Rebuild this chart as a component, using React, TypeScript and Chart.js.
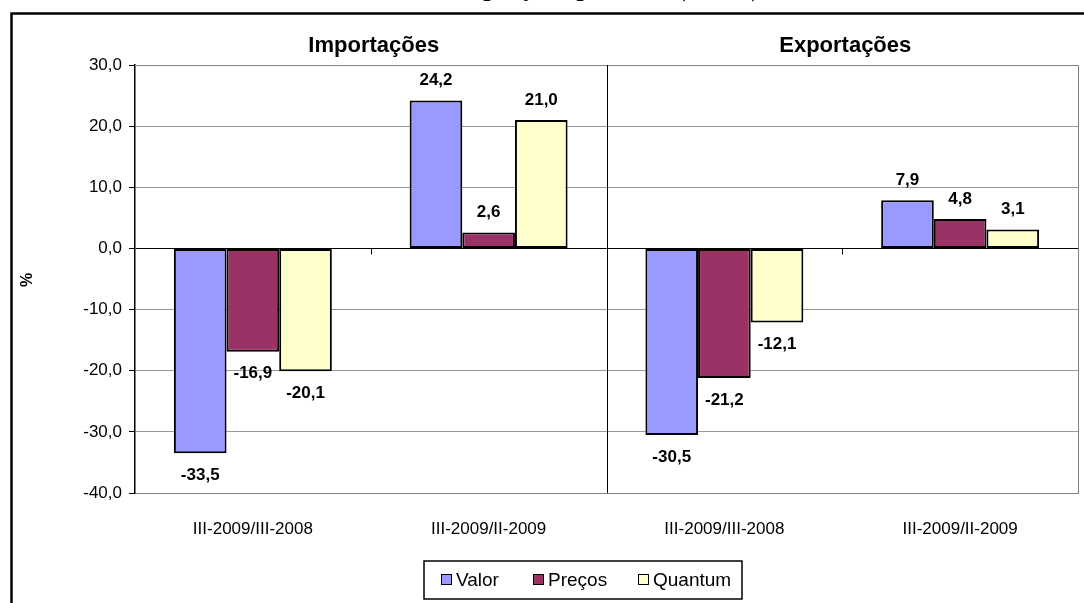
import React, { useEffect, useRef } from "react";
import { Chart, registerables } from "chart.js";

Chart.register(...registerables);

// Categories and series values (% change)
const categories = ["III-2009/III-2008", "III-2009/II-2009", "III-2009/III-2008", "III-2009/II-2009"];
const panelTitles = ["Importações", "Exportações"];
const seriesNames = ["Valor", "Preços", "Quantum"];
const valor = [-33.5, 24.2, -30.5, 7.9];
const precos = [-16.9, 2.6, -21.2, 4.8];
const quantum = [-20.1, 21.0, -12.1, 3.1];
const seriesColors = ["#9999FF", "#993366", "#FFFFCC"];
const yMin = -40;
const yMax = 30;
const yStep = 10;
const chartTitle = "Índices de valor, preço e quantum (em %)";

const SANS = "'Liberation Sans', Arial, sans-serif";
const SERIF = "'Liberation Serif', 'Times New Roman', serif";

const fmt = (v: number) => v.toFixed(1).replace(".", ",");

const decorations = {
  id: "decorations",
  beforeDraw(chart: any) {
    const { ctx, width, height } = chart;
    ctx.save();
    ctx.fillStyle = "#fff";
    ctx.fillRect(0, 0, width, height);
    ctx.restore();
  },
  afterDatasetsDraw(chart: any) {
    const { ctx } = chart;
    ctx.save();
    ctx.font = `bold 17px ${SANS}`;
    ctx.fillStyle = "#000";
    ctx.textAlign = "center";
    ctx.textBaseline = "middle";
    chart.data.datasets.forEach((ds: any, di: number) => {
      const meta = chart.getDatasetMeta(di);
      meta.data.forEach((bar: any, i: number) => {
        const v = ds.data[i];
        const y = v >= 0 ? bar.y - 20 : bar.y + 22;
        ctx.fillText(fmt(v), bar.x, y);
      });
    });
    ctx.restore();
  },
  afterDraw(chart: any) {
    const { ctx, chartArea, scales } = chart;
    const { left, right, top, bottom } = chartArea;
    const xs = scales.x;
    const ys = scales.y;
    const zeroY = ys.getPixelForValue(0);
    ctx.save();

    // plot area top/right border
    ctx.strokeStyle = "#808080";
    ctx.lineWidth = 1;
    ctx.beginPath();
    ctx.moveTo(left, top + 0.5);
    ctx.lineTo(right + 0.5, top + 0.5);
    ctx.lineTo(right + 0.5, bottom);
    ctx.stroke();

    // category boundaries: tick marks at zero line, divider between panels
    const bounds: number[] = [];
    for (let i = 0; i < categories.length - 1; i++) {
      bounds.push((xs.getPixelForValue(i) + xs.getPixelForValue(i + 1)) / 2);
    }
    ctx.strokeStyle = "#000";
    ctx.lineWidth = 1;
    bounds.forEach((bx) => {
      const px = Math.round(bx) + 0.5;
      ctx.beginPath();
      ctx.moveTo(px, zeroY);
      ctx.lineTo(px, zeroY + 6);
      ctx.stroke();
    });
    const mid = Math.round(bounds[1]) + 0.5;
    ctx.beginPath();
    ctx.moveTo(mid, top);
    ctx.lineTo(mid, bottom);
    ctx.stroke();

    // panel titles
    ctx.fillStyle = "#000";
    ctx.font = `bold 22px ${SANS}`;
    ctx.textAlign = "center";
    ctx.textBaseline = "middle";
    ctx.fillText(panelTitles[0], (left + bounds[1]) / 2 + 3, 46);
    ctx.fillText(panelTitles[1], (bounds[1] + right) / 2 + 3, 46);

    // y axis title
    ctx.save();
    ctx.translate(28, 280);
    ctx.rotate(-Math.PI / 2);
    ctx.font = `bold 16px ${SANS}`;
    ctx.fillText("%", 0, 0);
    ctx.restore();

    // chart title (top edge of the page)
    ctx.font = `bold 26px ${SERIF}`;
    ctx.textAlign = "right";
    ctx.textBaseline = "alphabetic";
    ctx.fillText(chartTitle, 760, -4);

    // outer frame
    ctx.strokeStyle = "#000";
    ctx.lineWidth = 2.5;
    ctx.beginPath();
    ctx.moveTo(11.5, chart.height + 2);
    ctx.lineTo(11.5, 13.5);
    ctx.lineTo(chart.width + 2, 13.5);
    ctx.stroke();

    // legend
    const lx = 424, ly = 561, lw = 318, lh = 38;
    ctx.fillStyle = "#fff";
    ctx.fillRect(lx, ly, lw, lh);
    ctx.lineWidth = 1.5;
    ctx.strokeStyle = "#000";
    ctx.strokeRect(lx, ly, lw, lh);
    const itemX = [441, 533, 638];
    ctx.font = `19px ${SANS}`;
    ctx.textAlign = "left";
    ctx.textBaseline = "middle";
    const cy = ly + lh / 2;
    chart.data.datasets.forEach((ds: any, i: number) => {
      const sx = itemX[i];
      ctx.fillStyle = ds.backgroundColor;
      ctx.fillRect(sx, cy - 6, 11, 11);
      ctx.lineWidth = 1;
      ctx.strokeStyle = "#000";
      ctx.strokeRect(sx + 0.5, cy - 5.5, 10, 10);
      ctx.fillStyle = "#000";
      ctx.fillText(ds.label, sx + 15, cy + 1);
    });

    ctx.restore();
  },
};

export default function App() {
  const canvasRef = useRef<HTMLCanvasElement | null>(null);

  useEffect(() => {
    if (!canvasRef.current) return;
    const values = [valor, precos, quantum];
    const chart = new Chart(canvasRef.current, {
      type: "bar",
      data: {
        labels: categories,
        datasets: seriesNames.map((name, i) => ({
          label: name,
          data: values[i],
          backgroundColor: seriesColors[i],
          borderColor: "#000",
          borderWidth: 2,
          borderSkipped: false,
          categoryPercentage: 0.67,
          barPercentage: 1,
        })),
      },
      options: {
        responsive: false,
        devicePixelRatio: 1,
        animation: false,
        layout: { padding: { top: 65, right: 6, bottom: 0, left: 0 } },
        plugins: {
          legend: { display: false },
          tooltip: { enabled: false },
          title: { display: false },
        },
        scales: {
          x: {
            type: "category",
            grid: { display: false },
            border: { display: true, color: "#808080", width: 1 },
            ticks: {
              color: "#000",
              font: { family: SANS, size: 17 },
              padding: 18,
              maxRotation: 0,
              autoSkip: false,
            },
            afterFit: (s: any) => {
              s.height = 110;
            },
          },
          y: {
            min: yMin,
            max: yMax,
            ticks: {
              stepSize: yStep,
              color: "#000",
              font: { family: SANS, size: 17 },
              padding: 7,
              callback: (v: any) => fmt(Number(v)),
            },
            grid: {
              color: (c: any) => (c.tick && c.tick.value === 0 ? "#000" : "#999999"),
              borderDash: (c: any) => (c.tick && c.tick.value === 0 ? [] : [1, 1]),
              lineWidth: 1,
              tickColor: "#000",
              tickLength: 6,
              tickBorderDash: [],
            },
            border: { color: "#000", width: 1.5 },
            afterFit: (s: any) => {
              s.width = 135;
            },
          },
        },
      } as any,
      plugins: [decorations],
    });
    return () => chart.destroy();
  }, []);

  return (
    <div style={{ position: "fixed", left: 0, top: 0, width: 1084, height: 603, background: "#fff" }}>
      <canvas ref={canvasRef} width={1084} height={603} style={{ width: 1084, height: 603, display: "block" }} />
    </div>
  );
}
